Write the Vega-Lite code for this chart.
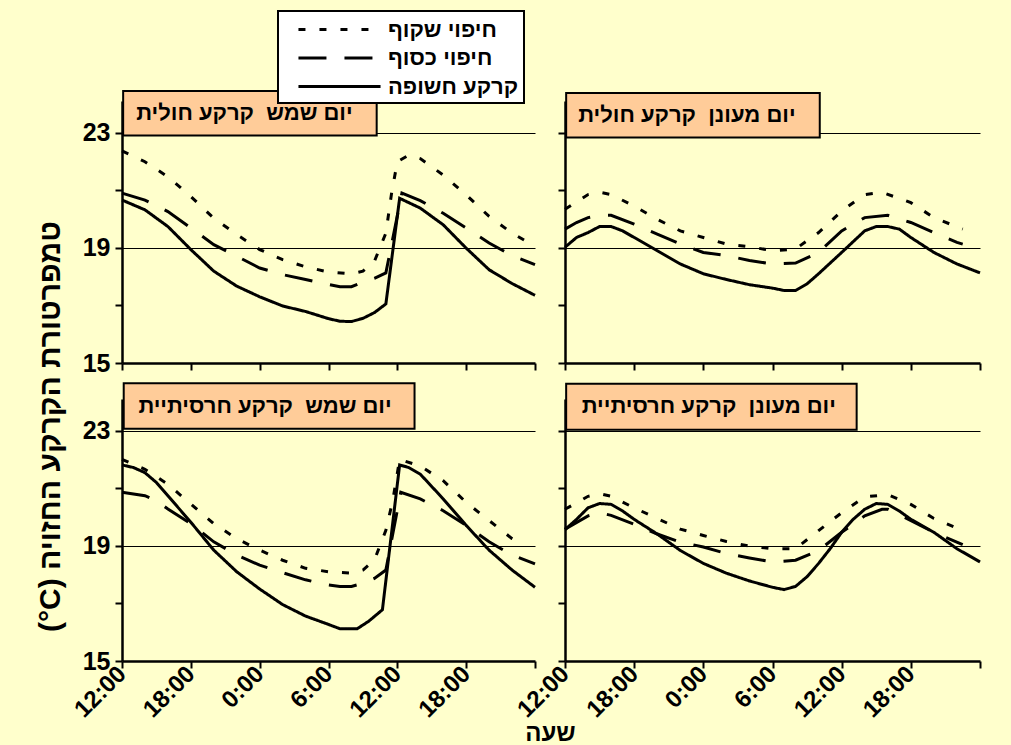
{
  "$schema": "https://vega.github.io/schema/vega-lite/v6.json",
  "background": "#FFFFCC",
  "padding": {"left": 34, "top": 10, "right": 33, "bottom": 3},
  "datasets": {
    "d": [
      {"p":"sun_sand","s":"קרקע חשופה","h":0,"t":20.66},{"p":"sun_sand","s":"קרקע חשופה","h":2,"t":20.32},{"p":"sun_sand","s":"קרקע חשופה","h":4,"t":19.74},{"p":"sun_sand","s":"קרקע חשופה","h":6,"t":18.94},{"p":"sun_sand","s":"קרקע חשופה","h":8,"t":18.19},{"p":"sun_sand","s":"קרקע חשופה","h":10,"t":17.67},{"p":"sun_sand","s":"קרקע חשופה","h":12,"t":17.3},{"p":"sun_sand","s":"קרקע חשופה","h":14,"t":16.98},{"p":"sun_sand","s":"קרקע חשופה","h":16,"t":16.79},{"p":"sun_sand","s":"קרקע חשופה","h":18,"t":16.54},{"p":"sun_sand","s":"קרקע חשופה","h":19,"t":16.45},{"p":"sun_sand","s":"קרקע חשופה","h":20,"t":16.44},{"p":"sun_sand","s":"קרקע חשופה","h":21,"t":16.55},{"p":"sun_sand","s":"קרקע חשופה","h":22,"t":16.75},{"p":"sun_sand","s":"קרקע חשופה","h":23,"t":17.05},{"p":"sun_sand","s":"קרקע חשופה","h":24.2,"t":20.72},{"p":"sun_sand","s":"קרקע חשופה","h":26,"t":20.38},{"p":"sun_sand","s":"קרקע חשופה","h":28,"t":19.8},{"p":"sun_sand","s":"קרקע חשופה","h":30,"t":18.99},{"p":"sun_sand","s":"קרקע חשופה","h":32,"t":18.24},{"p":"sun_sand","s":"קרקע חשופה","h":34,"t":17.76},{"p":"sun_sand","s":"קרקע חשופה","h":36,"t":17.35},
      {"p":"sun_sand","s":"חיפוי כסוף","h":0,"t":20.9},{"p":"sun_sand","s":"חיפוי כסוף","h":2,"t":20.66},{"p":"sun_sand","s":"חיפוי כסוף","h":4,"t":20.26},{"p":"sun_sand","s":"חיפוי כסוף","h":6,"t":19.69},{"p":"sun_sand","s":"חיפוי כסוף","h":8,"t":19.11},{"p":"sun_sand","s":"חיפוי כסוף","h":10,"t":18.71},{"p":"sun_sand","s":"חיפוי כסוף","h":12,"t":18.3},{"p":"sun_sand","s":"חיפוי כסוף","h":14,"t":18.07},{"p":"sun_sand","s":"חיפוי כסוף","h":16,"t":17.9},{"p":"sun_sand","s":"חיפוי כסוף","h":18,"t":17.73},{"p":"sun_sand","s":"חיפוי כסוף","h":19,"t":17.65},{"p":"sun_sand","s":"חיפוי כסוף","h":20,"t":17.65},{"p":"sun_sand","s":"חיפוי כסוף","h":21,"t":17.81},{"p":"sun_sand","s":"חיפוי כסוף","h":22,"t":17.94},{"p":"sun_sand","s":"חיפוי כסוף","h":23,"t":18.13},{"p":"sun_sand","s":"חיפוי כסוף","h":24.4,"t":20.9},{"p":"sun_sand","s":"חיפוי כסוף","h":26,"t":20.64},{"p":"sun_sand","s":"חיפוי כסוף","h":28,"t":20.2},{"p":"sun_sand","s":"חיפוי כסוף","h":30,"t":19.69},{"p":"sun_sand","s":"חיפוי כסוף","h":32,"t":19.17},{"p":"sun_sand","s":"חיפוי כסוף","h":34,"t":18.73},{"p":"sun_sand","s":"חיפוי כסוף","h":36,"t":18.42},
      {"p":"sun_sand","s":"חיפוי שקוף","h":0,"t":22.37},{"p":"sun_sand","s":"חיפוי שקוף","h":2,"t":21.99},{"p":"sun_sand","s":"חיפוי שקוף","h":4,"t":21.47},{"p":"sun_sand","s":"חיפוי שקוף","h":6,"t":20.78},{"p":"sun_sand","s":"חיפוי שקוף","h":8,"t":20.03},{"p":"sun_sand","s":"חיפוי שקוף","h":10,"t":19.46},{"p":"sun_sand","s":"חיפוי שקוף","h":12,"t":18.94},{"p":"sun_sand","s":"חיפוי שקוף","h":14,"t":18.59},{"p":"sun_sand","s":"חיפוי שקוף","h":16,"t":18.34},{"p":"sun_sand","s":"חיפוי שקוף","h":18,"t":18.16},{"p":"sun_sand","s":"חיפוי שקוף","h":20,"t":18.1},{"p":"sun_sand","s":"חיפוי שקוף","h":21,"t":18.19},{"p":"sun_sand","s":"חיפוי שקוף","h":22,"t":18.53},{"p":"sun_sand","s":"חיפוי שקוף","h":23,"t":19.51},{"p":"sun_sand","s":"חיפוי שקוף","h":23.5,"t":20.9},{"p":"sun_sand","s":"חיפוי שקוף","h":24,"t":21.99},{"p":"sun_sand","s":"חיפוי שקוף","h":25,"t":22.22},{"p":"sun_sand","s":"חיפוי שקוף","h":26,"t":22.1},{"p":"sun_sand","s":"חיפוי שקוף","h":28,"t":21.53},{"p":"sun_sand","s":"חיפוי שקוף","h":30,"t":20.84},{"p":"sun_sand","s":"חיפוי שקוף","h":32,"t":20.09},{"p":"sun_sand","s":"חיפוי שקוף","h":34,"t":19.51},{"p":"sun_sand","s":"חיפוי שקוף","h":35.5,"t":19.17},

      {"p":"cloud_sand","s":"קרקע חשופה","h":0,"t":19.02},{"p":"cloud_sand","s":"קרקע חשופה","h":1,"t":19.36},{"p":"cloud_sand","s":"קרקע חשופה","h":2,"t":19.53},{"p":"cloud_sand","s":"קרקע חשופה","h":3,"t":19.74},{"p":"cloud_sand","s":"קרקע חשופה","h":4,"t":19.74},{"p":"cloud_sand","s":"קרקע חשופה","h":5,"t":19.59},{"p":"cloud_sand","s":"קרקע חשופה","h":6,"t":19.36},{"p":"cloud_sand","s":"קרקע חשופה","h":8,"t":18.9},{"p":"cloud_sand","s":"קרקע חשופה","h":10,"t":18.44},{"p":"cloud_sand","s":"קרקע חשופה","h":12,"t":18.1},{"p":"cloud_sand","s":"קרקע חשופה","h":14,"t":17.9},{"p":"cloud_sand","s":"קרקע חשופה","h":16,"t":17.72},{"p":"cloud_sand","s":"קרקע חשופה","h":18,"t":17.6},{"p":"cloud_sand","s":"קרקע חשופה","h":19,"t":17.52},{"p":"cloud_sand","s":"קרקע חשופה","h":20,"t":17.52},{"p":"cloud_sand","s":"קרקע חשופה","h":21,"t":17.75},{"p":"cloud_sand","s":"קרקע חשופה","h":22,"t":18.1},{"p":"cloud_sand","s":"קרקע חשופה","h":24,"t":18.84},{"p":"cloud_sand","s":"קרקע חשופה","h":26,"t":19.59},{"p":"cloud_sand","s":"קרקע חשופה","h":27,"t":19.74},{"p":"cloud_sand","s":"קרקע חשופה","h":28,"t":19.74},{"p":"cloud_sand","s":"קרקע חשופה","h":29,"t":19.65},{"p":"cloud_sand","s":"קרקע חשופה","h":30,"t":19.36},{"p":"cloud_sand","s":"קרקע חשופה","h":32,"t":18.84},{"p":"cloud_sand","s":"קרקע חשופה","h":34,"t":18.44},{"p":"cloud_sand","s":"קרקע חשופה","h":36,"t":18.13},
      {"p":"cloud_sand","s":"חיפוי כסוף","h":0,"t":19.65},{"p":"cloud_sand","s":"חיפוי כסוף","h":1,"t":19.88},{"p":"cloud_sand","s":"חיפוי כסוף","h":2,"t":20.05},{"p":"cloud_sand","s":"חיפוי כסוף","h":3,"t":20.13},{"p":"cloud_sand","s":"חיפוי כסוף","h":4,"t":20.13},{"p":"cloud_sand","s":"חיפוי כסוף","h":6,"t":19.82},{"p":"cloud_sand","s":"חיפוי כסוף","h":8,"t":19.48},{"p":"cloud_sand","s":"חיפוי כסוף","h":10,"t":19.13},{"p":"cloud_sand","s":"חיפוי כסוף","h":12,"t":18.84},{"p":"cloud_sand","s":"חיפוי כסוף","h":14,"t":18.73},{"p":"cloud_sand","s":"חיפוי כסוף","h":16,"t":18.56},{"p":"cloud_sand","s":"חיפוי כסוף","h":18,"t":18.44},{"p":"cloud_sand","s":"חיפוי כסוף","h":20,"t":18.47},{"p":"cloud_sand","s":"חיפוי כסוף","h":22,"t":18.84},{"p":"cloud_sand","s":"חיפוי כסוף","h":24,"t":19.59},{"p":"cloud_sand","s":"חיפוי כסוף","h":26,"t":20.05},{"p":"cloud_sand","s":"חיפוי כסוף","h":28,"t":20.13},{"p":"cloud_sand","s":"חיפוי כסוף","h":30,"t":19.88},{"p":"cloud_sand","s":"חיפוי כסוף","h":32,"t":19.53},{"p":"cloud_sand","s":"חיפוי כסוף","h":34,"t":19.19},{"p":"cloud_sand","s":"חיפוי כסוף","h":34.5,"t":19.13},
      {"p":"cloud_sand","s":"חיפוי שקוף","h":0,"t":20.34},{"p":"cloud_sand","s":"חיפוי שקוף","h":2,"t":20.85},{"p":"cloud_sand","s":"חיפוי שקוף","h":3,"t":20.93},{"p":"cloud_sand","s":"חיפוי שקוף","h":4,"t":20.85},{"p":"cloud_sand","s":"חיפוי שקוף","h":6,"t":20.45},{"p":"cloud_sand","s":"חיפוי שקוף","h":8,"t":19.99},{"p":"cloud_sand","s":"חיפוי שקוף","h":10,"t":19.59},{"p":"cloud_sand","s":"חיפוי שקוף","h":12,"t":19.36},{"p":"cloud_sand","s":"חיפוי שקוף","h":14,"t":19.13},{"p":"cloud_sand","s":"חיפוי שקוף","h":16,"t":19.04},{"p":"cloud_sand","s":"חיפוי שקוף","h":18,"t":18.9},{"p":"cloud_sand","s":"חיפוי שקוף","h":20,"t":18.96},{"p":"cloud_sand","s":"חיפוי שקוף","h":22,"t":19.53},{"p":"cloud_sand","s":"חיפוי שקוף","h":24,"t":20.28},{"p":"cloud_sand","s":"חיפוי שקוף","h":26,"t":20.85},{"p":"cloud_sand","s":"חיפוי שקוף","h":27.5,"t":20.93},{"p":"cloud_sand","s":"חיפוי שקוף","h":30,"t":20.57},{"p":"cloud_sand","s":"חיפוי שקוף","h":32,"t":20.05},{"p":"cloud_sand","s":"חיפוי שקוף","h":34.5,"t":19.65},

      {"p":"sun_clay","s":"קרקע חשופה","h":0,"t":21.81},{"p":"sun_clay","s":"קרקע חשופה","h":1,"t":21.72},{"p":"sun_clay","s":"קרקע חשופה","h":2,"t":21.54},{"p":"sun_clay","s":"קרקע חשופה","h":3,"t":21.2},{"p":"sun_clay","s":"קרקע חשופה","h":4,"t":20.74},{"p":"sun_clay","s":"קרקע חשופה","h":6,"t":19.82},{"p":"sun_clay","s":"קרקע חשופה","h":8,"t":18.85},{"p":"sun_clay","s":"קרקע חשופה","h":10,"t":18.1},{"p":"sun_clay","s":"קרקע חשופה","h":12,"t":17.5},{"p":"sun_clay","s":"קרקע חשופה","h":14,"t":16.96},{"p":"sun_clay","s":"קרקע חשופה","h":16,"t":16.56},{"p":"sun_clay","s":"קרקע חשופה","h":18,"t":16.27},{"p":"sun_clay","s":"קרקע חשופה","h":19,"t":16.12},{"p":"sun_clay","s":"קרקע חשופה","h":20.5,"t":16.12},{"p":"sun_clay","s":"קרקע חשופה","h":21.5,"t":16.38},{"p":"sun_clay","s":"קרקע חשופה","h":22.7,"t":16.78},{"p":"sun_clay","s":"קרקע חשופה","h":24.2,"t":21.81},{"p":"sun_clay","s":"קרקע חשופה","h":25,"t":21.72},{"p":"sun_clay","s":"קרקע חשופה","h":26,"t":21.49},{"p":"sun_clay","s":"קרקע חשופה","h":28,"t":20.63},{"p":"sun_clay","s":"קרקע חשופה","h":30,"t":19.71},{"p":"sun_clay","s":"קרקע חשופה","h":32,"t":18.85},{"p":"sun_clay","s":"קרקע חשופה","h":34,"t":18.16},{"p":"sun_clay","s":"קרקע חשופה","h":36,"t":17.56},
      {"p":"sun_clay","s":"חיפוי כסוף","h":0,"t":20.86},{"p":"sun_clay","s":"חיפוי כסוף","h":2,"t":20.74},{"p":"sun_clay","s":"חיפוי כסוף","h":3,"t":20.57},{"p":"sun_clay","s":"חיפוי כסוף","h":4,"t":20.28},{"p":"sun_clay","s":"חיפוי כסוף","h":6,"t":19.77},{"p":"sun_clay","s":"חיפוי כסוף","h":8,"t":19.14},{"p":"sun_clay","s":"חיפוי כסוף","h":10,"t":18.68},{"p":"sun_clay","s":"חיפוי כסוף","h":12,"t":18.33},{"p":"sun_clay","s":"חיפוי כסוף","h":14,"t":18.07},{"p":"sun_clay","s":"חיפוי כסוף","h":16,"t":17.82},{"p":"sun_clay","s":"חיפוי כסוף","h":18,"t":17.64},{"p":"sun_clay","s":"חיפוי כסוף","h":19,"t":17.59},{"p":"sun_clay","s":"חיפוי כסוף","h":20,"t":17.59},{"p":"sun_clay","s":"חיפוי כסוף","h":21,"t":17.7},{"p":"sun_clay","s":"חיפוי כסוף","h":22,"t":17.87},{"p":"sun_clay","s":"חיפוי כסוף","h":23,"t":18.16},{"p":"sun_clay","s":"חיפוי כסוף","h":24.3,"t":20.86},{"p":"sun_clay","s":"חיפוי כסוף","h":26,"t":20.63},{"p":"sun_clay","s":"חיפוי כסוף","h":28,"t":20.22},{"p":"sun_clay","s":"חיפוי כסוף","h":30,"t":19.71},{"p":"sun_clay","s":"חיפוי כסוף","h":32,"t":19.14},{"p":"sun_clay","s":"חיפוי כסוף","h":34,"t":18.68},{"p":"sun_clay","s":"חיפוי כסוף","h":36,"t":18.37},
      {"p":"sun_clay","s":"חיפוי שקוף","h":0,"t":22.0},{"p":"sun_clay","s":"חיפוי שקוף","h":2,"t":21.66},{"p":"sun_clay","s":"חיפוי שקוף","h":4,"t":21.14},{"p":"sun_clay","s":"חיפוי שקוף","h":6,"t":20.45},{"p":"sun_clay","s":"חיפוי שקוף","h":8,"t":19.77},{"p":"sun_clay","s":"חיפוי שקוף","h":10,"t":19.25},{"p":"sun_clay","s":"חיפוי שקוף","h":12,"t":18.85},{"p":"sun_clay","s":"חיפוי שקוף","h":14,"t":18.5},{"p":"sun_clay","s":"חיפוי שקוף","h":16,"t":18.22},{"p":"sun_clay","s":"חיפוי שקוף","h":18,"t":18.1},{"p":"sun_clay","s":"חיפוי שקוף","h":20,"t":18.05},{"p":"sun_clay","s":"חיפוי שקוף","h":21,"t":18.16},{"p":"sun_clay","s":"חיפוי שקוף","h":22,"t":18.5},{"p":"sun_clay","s":"חיפוי שקוף","h":23,"t":19.54},{"p":"sun_clay","s":"חיפוי שקוף","h":23.6,"t":20.57},{"p":"sun_clay","s":"חיפוי שקוף","h":24.2,"t":22.0},{"p":"sun_clay","s":"חיפוי שקוף","h":26,"t":21.77},{"p":"sun_clay","s":"חיפוי שקוף","h":28,"t":21.26},{"p":"sun_clay","s":"חיפוי שקוף","h":30,"t":20.51},{"p":"sun_clay","s":"חיפוי שקוף","h":32,"t":19.88},{"p":"sun_clay","s":"חיפוי שקוף","h":34,"t":19.25},{"p":"sun_clay","s":"חיפוי שקוף","h":35,"t":19.02},

      {"p":"cloud_clay","s":"קרקע חשופה","h":0,"t":19.56},{"p":"cloud_clay","s":"קרקע חשופה","h":1,"t":19.92},{"p":"cloud_clay","s":"קרקע חשופה","h":2,"t":20.32},{"p":"cloud_clay","s":"קרקע חשופה","h":3,"t":20.47},{"p":"cloud_clay","s":"קרקע חשופה","h":4,"t":20.44},{"p":"cloud_clay","s":"קרקע חשופה","h":5,"t":20.21},{"p":"cloud_clay","s":"קרקע חשופה","h":6,"t":19.92},{"p":"cloud_clay","s":"קרקע חשופה","h":8,"t":19.41},{"p":"cloud_clay","s":"קרקע חשופה","h":10,"t":18.84},{"p":"cloud_clay","s":"קרקע חשופה","h":12,"t":18.39},{"p":"cloud_clay","s":"קרקע חשופה","h":14,"t":18.05},{"p":"cloud_clay","s":"קרקע חשופה","h":16,"t":17.78},{"p":"cloud_clay","s":"קרקע חשופה","h":18,"t":17.56},{"p":"cloud_clay","s":"קרקע חשופה","h":19,"t":17.48},{"p":"cloud_clay","s":"קרקע חשופה","h":20,"t":17.59},{"p":"cloud_clay","s":"קרקע חשופה","h":21,"t":17.93},{"p":"cloud_clay","s":"קרקע חשופה","h":22,"t":18.39},{"p":"cloud_clay","s":"קרקע חשופה","h":23,"t":18.9},{"p":"cloud_clay","s":"קרקע חשופה","h":24,"t":19.47},{"p":"cloud_clay","s":"קרקע חשופה","h":25,"t":19.92},{"p":"cloud_clay","s":"קרקע חשופה","h":26,"t":20.27},{"p":"cloud_clay","s":"קרקע חשופה","h":27,"t":20.47},{"p":"cloud_clay","s":"קרקע חשופה","h":28,"t":20.44},{"p":"cloud_clay","s":"קרקע חשופה","h":29,"t":20.21},{"p":"cloud_clay","s":"קרקע חשופה","h":30,"t":19.92},{"p":"cloud_clay","s":"קרקע חשופה","h":32,"t":19.47},{"p":"cloud_clay","s":"קרקע חשופה","h":34,"t":18.9},{"p":"cloud_clay","s":"קרקע חשופה","h":36,"t":18.44},
      {"p":"cloud_clay","s":"חיפוי כסוף","h":0,"t":19.58},{"p":"cloud_clay","s":"חיפוי כסוף","h":2,"t":20.04},{"p":"cloud_clay","s":"חיפוי כסוף","h":3,"t":20.15},{"p":"cloud_clay","s":"חיפוי כסוף","h":4,"t":20.06},{"p":"cloud_clay","s":"חיפוי כסוף","h":6,"t":19.75},{"p":"cloud_clay","s":"חיפוי כסוף","h":8,"t":19.41},{"p":"cloud_clay","s":"חיפוי כסוף","h":10,"t":19.13},{"p":"cloud_clay","s":"חיפוי כסוף","h":12,"t":18.96},{"p":"cloud_clay","s":"חיפוי כסוף","h":14,"t":18.73},{"p":"cloud_clay","s":"חיפוי כסוף","h":16,"t":18.58},{"p":"cloud_clay","s":"חיפוי כסוף","h":18,"t":18.44},{"p":"cloud_clay","s":"חיפוי כסוף","h":20,"t":18.5},{"p":"cloud_clay","s":"חיפוי כסוף","h":22,"t":18.84},{"p":"cloud_clay","s":"חיפוי כסוף","h":24,"t":19.47},{"p":"cloud_clay","s":"חיפוי כסוף","h":26,"t":20.04},{"p":"cloud_clay","s":"חיפוי כסוף","h":27.5,"t":20.27},{"p":"cloud_clay","s":"חיפוי כסוף","h":28,"t":20.27},{"p":"cloud_clay","s":"חיפוי כסוף","h":29.5,"t":19.98},{"p":"cloud_clay","s":"חיפוי כסוף","h":32,"t":19.47},{"p":"cloud_clay","s":"חיפוי כסוף","h":34.5,"t":19.04},
      {"p":"cloud_clay","s":"חיפוי שקוף","h":0,"t":20.27},{"p":"cloud_clay","s":"חיפוי שקוף","h":2,"t":20.72},{"p":"cloud_clay","s":"חיפוי שקוף","h":3,"t":20.81},{"p":"cloud_clay","s":"חיפוי שקוף","h":4,"t":20.72},{"p":"cloud_clay","s":"חיפוי שקוף","h":6,"t":20.32},{"p":"cloud_clay","s":"חיפוי שקוף","h":8,"t":19.95},{"p":"cloud_clay","s":"חיפוי שקוף","h":10,"t":19.58},{"p":"cloud_clay","s":"חיפוי שקוף","h":12,"t":19.36},{"p":"cloud_clay","s":"חיפוי שקוף","h":14,"t":19.15},{"p":"cloud_clay","s":"חיפוי שקוף","h":16,"t":18.99},{"p":"cloud_clay","s":"חיפוי שקוף","h":18,"t":18.9},{"p":"cloud_clay","s":"חיפוי שקוף","h":20,"t":18.9},{"p":"cloud_clay","s":"חיפוי שקוף","h":22,"t":19.53},{"p":"cloud_clay","s":"חיפוי שקוף","h":24,"t":20.15},{"p":"cloud_clay","s":"חיפוי שקוף","h":26,"t":20.7},{"p":"cloud_clay","s":"חיפוי שקוף","h":28,"t":20.78},{"p":"cloud_clay","s":"חיפוי שקוף","h":30,"t":20.44},{"p":"cloud_clay","s":"חיפוי שקוף","h":32,"t":19.95},{"p":"cloud_clay","s":"חיפוי שקוף","h":34.5,"t":19.53}
    ]
  },
  "concat": [
    {
      "width": 413, "height": 262,
      "layer": [
        {
          "data": {"name": "d"},
          "transform": [{"filter": "datum.p === 'sun_sand'"}],
          "mark": {"type": "line", "color": "black", "strokeWidth": 3, "strokeCap": "butt"},
          "encoding": {
            "x": {"field": "h", "type": "quantitative", "scale": {"domain": [0, 36], "nice": false}, "axis": {"values": [0,3,6,9,12,15,18,21,24,27,30,33,36], "labels": false, "grid": false, "title": null}},
            "y": {"field": "t", "type": "quantitative", "scale": {"domain": [15, 24.1], "nice": false, "zero": false}, "axis": {"values": [15,17,19,21,23], "labelExpr": "datum.value === 17 || datum.value === 21 ? '' : datum.label", "title": null}},
            "strokeDash": {"field": "s", "type": "nominal", "scale": {"domain": ["חיפוי שקוף", "חיפוי כסוף", "קרקע חשופה"], "range": [[7, 14], [28, 18], [1, 0]]}, "legend": {"title": null, "orient": "none", "legendX": 156, "legendY": -90}}
          }
        },
        {
          "data": {"values": [{}]},
          "mark": {"type": "rect", "fill": "#FFCC99", "stroke": "black", "strokeWidth": 2},
          "encoding": {"x": {"datum": 0.1}, "x2": {"datum": 22.2}, "y": {"datum": 24.45}, "y2": {"datum": 22.9}}
        },
        {
          "data": {"values": [{}]},
          "mark": {"type": "text", "align": "right", "baseline": "middle", "font": "Liberation Sans", "fontWeight": "bold", "fontSize": 22, "color": "black"},
          "encoding": {"x": {"datum": 20.1}, "y": {"datum": 23.67}, "text": {"value": "יום שמש\u00a0 קרקע חולית"}}
        }
      ]
    },
    {
      "width": 415, "height": 262,
      "layer": [
        {
          "data": {"name": "d"},
          "transform": [{"filter": "datum.p === 'cloud_sand'"}],
          "mark": {"type": "line", "color": "black", "strokeWidth": 3, "strokeCap": "butt"},
          "encoding": {
            "x": {"field": "h", "type": "quantitative", "scale": {"domain": [0, 36], "nice": false}, "axis": {"values": [0,3,6,9,12,15,18,21,24,27,30,33,36], "labels": false, "grid": false, "title": null}},
            "y": {"field": "t", "type": "quantitative", "scale": {"domain": [15, 24.1], "nice": false, "zero": false}, "axis": {"values": [15,17,19,21,23], "labels": false, "title": null}},
            "strokeDash": {"field": "s", "type": "nominal", "scale": {"domain": ["חיפוי שקוף", "חיפוי כסוף", "קרקע חשופה"], "range": [[7, 14], [28, 18], [1, 0]]}, "legend": null}
          }
        },
        {
          "data": {"values": [{}]},
          "mark": {"type": "rect", "fill": "#FFCC99", "stroke": "black", "strokeWidth": 2},
          "encoding": {"x": {"datum": 0.1}, "x2": {"datum": 22.1}, "y": {"datum": 24.38}, "y2": {"datum": 22.83}}
        },
        {
          "data": {"values": [{}]},
          "mark": {"type": "text", "align": "right", "baseline": "middle", "font": "Liberation Sans", "fontWeight": "bold", "fontSize": 22, "color": "black"},
          "encoding": {"x": {"datum": 20}, "y": {"datum": 23.6}, "text": {"value": "יום מעונן\u00a0 קרקע חולית"}}
        }
      ]
    },
    {
      "width": 413, "height": 262,
      "layer": [
        {
          "data": {"name": "d"},
          "transform": [{"filter": "datum.p === 'sun_clay'"}],
          "mark": {"type": "line", "color": "black", "strokeWidth": 3, "strokeCap": "butt"},
          "encoding": {
            "x": {"field": "h", "type": "quantitative", "scale": {"domain": [0, 36], "nice": false}, "axis": {"values": [0,3,6,9,12,15,18,21,24,27,30,33,36], "labelExpr": "datum.value % 6 === 0 && datum.value < 36 ? ((12 + datum.value) % 24) + ':00' : ''", "grid": false, "title": "שעה", "titleX": 428, "titleY": 72}},
            "y": {"field": "t", "type": "quantitative", "scale": {"domain": [15, 24.1], "nice": false, "zero": false}, "axis": {"values": [15,17,19,21,23], "labelExpr": "datum.value === 17 || datum.value === 21 ? '' : datum.label", "title": "(°C) טמפרטורת הקרקע החזויה", "titleX": -72, "titleY": 27, "titleFontSize": 30}},
            "strokeDash": {"field": "s", "type": "nominal", "scale": {"domain": ["חיפוי שקוף", "חיפוי כסוף", "קרקע חשופה"], "range": [[7, 14], [28, 18], [1, 0]]}, "legend": null}
          }
        },
        {
          "data": {"values": [{}]},
          "mark": {"type": "rect", "fill": "#FFCC99", "stroke": "black", "strokeWidth": 2},
          "encoding": {"x": {"datum": 0.15}, "x2": {"datum": 25.5}, "y": {"datum": 24.65}, "y2": {"datum": 23.07}}
        },
        {
          "data": {"values": [{}]},
          "mark": {"type": "text", "align": "right", "baseline": "middle", "font": "Liberation Sans", "fontWeight": "bold", "fontSize": 22, "color": "black"},
          "encoding": {"x": {"datum": 23.5}, "y": {"datum": 23.85}, "text": {"value": "יום שמש\u00a0 קרקע חרסיתיית"}}
        }
      ]
    },
    {
      "width": 415, "height": 262,
      "layer": [
        {
          "data": {"name": "d"},
          "transform": [{"filter": "datum.p === 'cloud_clay'"}],
          "mark": {"type": "line", "color": "black", "strokeWidth": 3, "strokeCap": "butt"},
          "encoding": {
            "x": {"field": "h", "type": "quantitative", "scale": {"domain": [0, 36], "nice": false}, "axis": {"values": [0,3,6,9,12,15,18,21,24,27,30,33,36], "labelExpr": "datum.value % 6 === 0 && datum.value < 36 ? ((12 + datum.value) % 24) + ':00' : ''", "grid": false, "title": null}},
            "y": {"field": "t", "type": "quantitative", "scale": {"domain": [15, 24.1], "nice": false, "zero": false}, "axis": {"values": [15,17,19,21,23], "labels": false, "title": null}},
            "strokeDash": {"field": "s", "type": "nominal", "scale": {"domain": ["חיפוי שקוף", "חיפוי כסוף", "קרקע חשופה"], "range": [[7, 14], [28, 18], [1, 0]]}, "legend": null}
          }
        },
        {
          "data": {"values": [{}]},
          "mark": {"type": "rect", "fill": "#FFCC99", "stroke": "black", "strokeWidth": 2},
          "encoding": {"x": {"datum": 0.1}, "x2": {"datum": 25.3}, "y": {"datum": 24.63}, "y2": {"datum": 23.03}}
        },
        {
          "data": {"values": [{}]},
          "mark": {"type": "text", "align": "right", "baseline": "middle", "font": "Liberation Sans", "fontWeight": "bold", "fontSize": 22, "color": "black"},
          "encoding": {"x": {"datum": 23.5}, "y": {"datum": 23.85}, "text": {"value": "יום מעונן\u00a0 קרקע חרסיתיית"}}
        }
      ]
    }
  ],
  "columns": 2,
  "spacing": {"row": 36, "column": 30},
  "bounds": "flush",
  "config": {
    "view": {"stroke": null},
    "axis": {
      "domainColor": "black", "domainWidth": 2.5,
      "tickColor": "black", "tickWidth": 2, "tickSize": 7,
      "labelFont": "Liberation Sans", "labelFontWeight": "bold", "labelFontSize": 25, "labelColor": "black",
      "titleFont": "Liberation Sans", "titleFontWeight": "bold", "titleFontSize": 24, "titleColor": "black",
      "gridColor": "black", "gridWidth": 1,
      "gridOpacity": {"condition": {"test": "datum.value === 19 || datum.value === 23", "value": 1}, "value": 0}
    },
    "axisX": {"labelAngle": -45, "labelAlign": "right", "labelBaseline": "middle", "labelPadding": 2, "labelOverlap": false, "labelFontSize": 24, "titleAlign": "center", "titleBaseline": "middle"},
    "axisY": {"labelPadding": 5, "titleAngle": -90, "titleAlign": "center", "titleBaseline": "middle"},
    "legend": {
      "fillColor": "white", "strokeColor": "black", "strokeWidth": 2, "padding": 5,
      "symbolType": "M-3.42,0H3.42", "symbolSize": 576, "symbolOffset": 43, "symbolStrokeWidth": 3, "symbolStrokeColor": "black",
      "labelFont": "Liberation Sans", "labelFontWeight": "bold", "labelFontSize": 22, "labelColor": "black",
      "labelOffset": 35, "rowPadding": 3.5, "labelLimit": 300
    }
  }
}
